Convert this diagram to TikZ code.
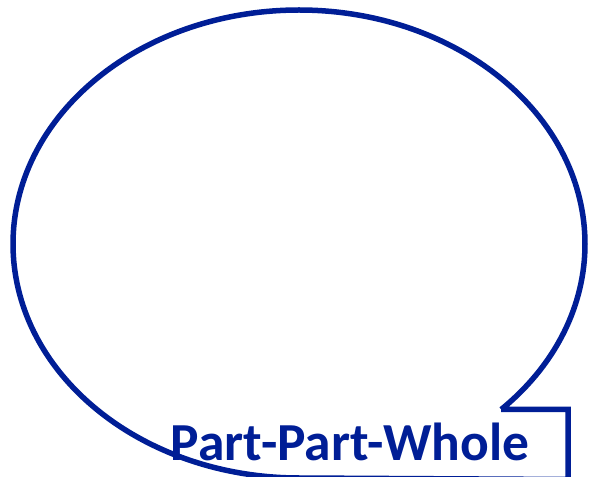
\documentclass[tikz,border=0pt]{standalone}
\usepackage{fontspec}
\setmainfont{Carlito}
\usepackage{tikz}
\definecolor{bubbleblue}{RGB}{0,30,150}

\begin{document}
\begin{tikzpicture}[x=1pt, y=1pt, line join=miter]
        \useasboundingbox (0,0) rectangle (598,477);
        \clip (0,0) rectangle (598,477);
        \coordinate (centre) at (299,233);
        \coordinate (tip) at (568,-2.5);
        % speech bubble with a square corner at the lower right
        \draw[bubbleblue, line width=5.5pt] (centre) ++(-45:286 and 234) coordinate (cut)
          arc[start angle=-45, end angle=270, x radius=286, y radius=234]
          -- (tip) -- (tip |- cut) -- (cut);
        \node[text=bubbleblue, font=\fontsize{53.5}{62}\selectfont\bfseries, anchor=base] (title) at (350,16) {Part-Part-Whole};
      \end{tikzpicture}
\end{document}
